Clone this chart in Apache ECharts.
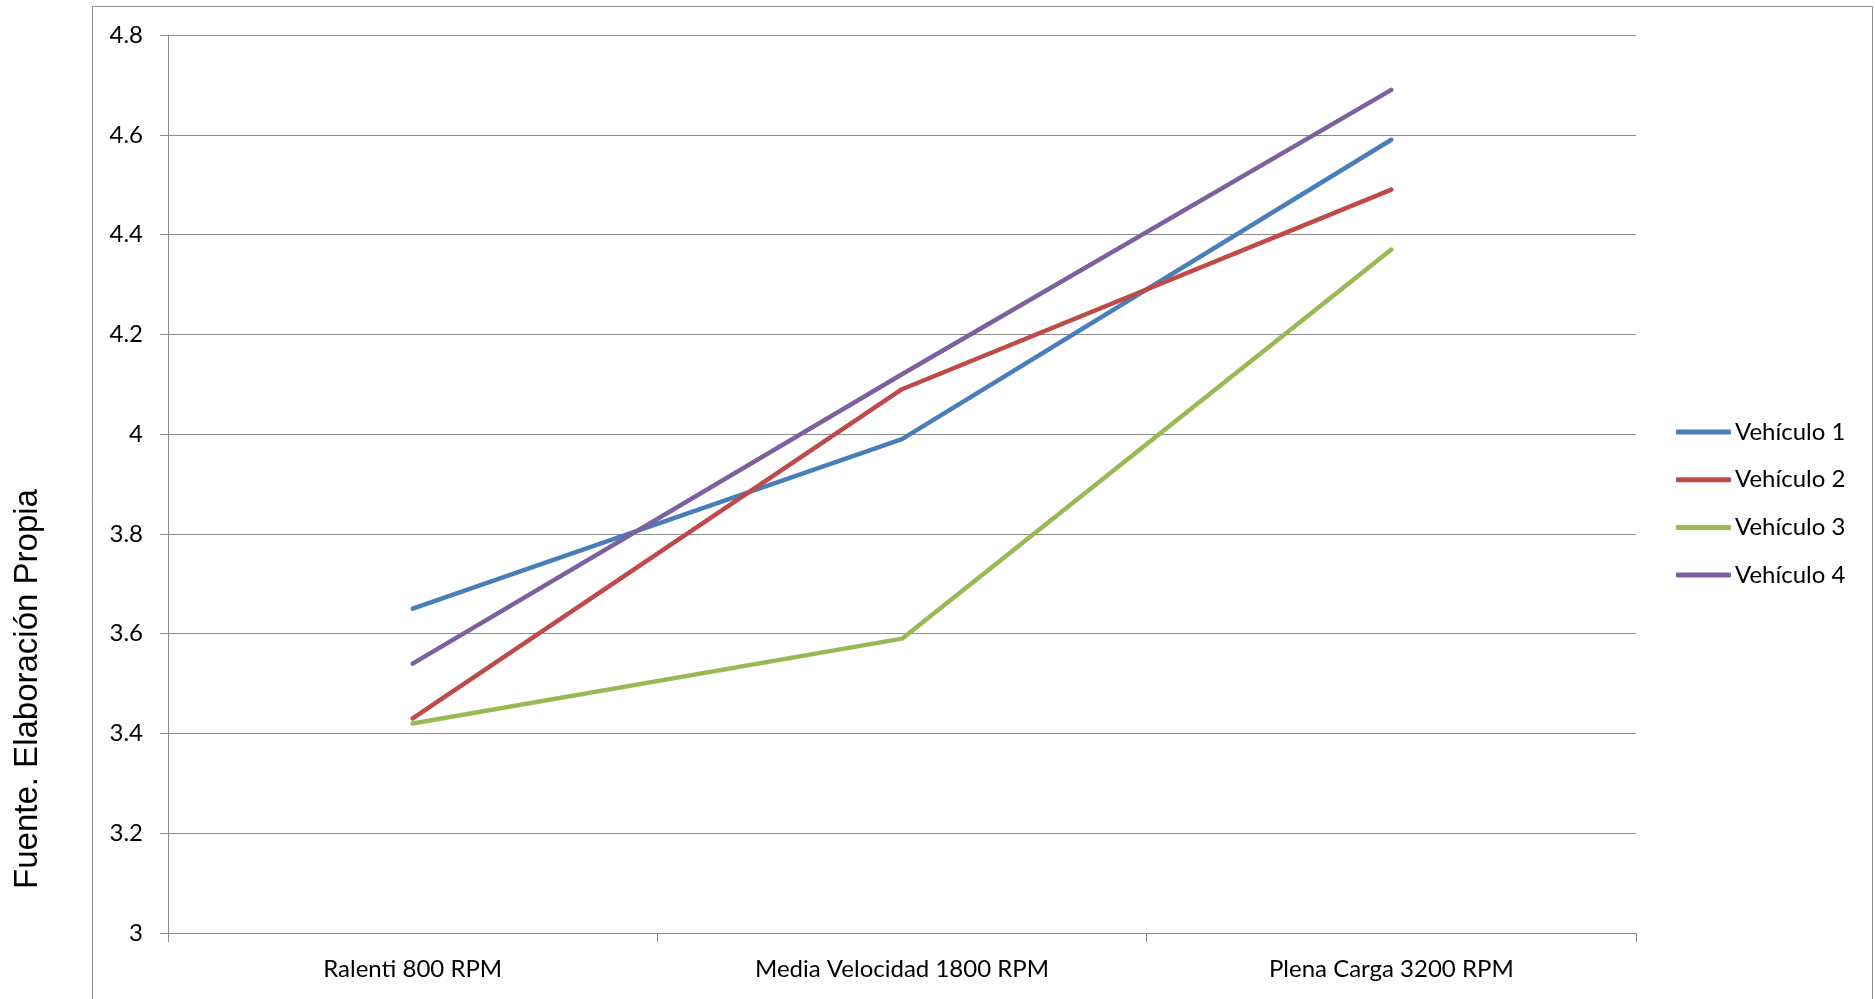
<!DOCTYPE html>
<html>
<head>
<meta charset="utf-8">
<title>Vehículos</title>
<script src="https://cdn.jsdelivr.net/npm/echarts@6/dist/echarts.min.js"></script>
<style>
  html, body { margin: 0; padding: 0; background: #ffffff; }
  #chart { width: 1875px; height: 999px; }
</style>
</head>
<body>
<div id="chart"></div>
<script>
// Engine speed regimes on the category axis
const categories = ['Ralenti 800 RPM', 'Media Velocidad 1800 RPM', 'Plena Carga 3200 RPM'];

// Measured values per vehicle
const vehiculo1 = [3.65, 3.99, 4.59];
const vehiculo2 = [3.43, 4.09, 4.49];
const vehiculo3 = [3.42, 3.59, 4.37];
const vehiculo4 = [3.54, 4.12, 4.69];

const seriesNames = ['Vehículo 1', 'Vehículo 2', 'Vehículo 3', 'Vehículo 4'];
const seriesData = [vehiculo1, vehiculo2, vehiculo3, vehiculo4];
const seriesColors = ['#4A7EBB', '#BE4B48', '#98B954', '#7D60A0'];

const sourceNote = 'Fuente. Elaboración Propia';

const gridGray = '#8C8C8C';
const labelFont = 'Lato, "Open Sans", sans-serif';

const chart = echarts.init(document.getElementById('chart'), null, { renderer: 'canvas' });

chart.setOption({
  backgroundColor: '#ffffff',
  animation: false,
  grid: { left: 168, right: 239, top: 35, bottom: 66, containLabel: false },
  xAxis: {
    type: 'category',
    data: categories,
    boundaryGap: true,
    axisLine: { show: true, lineStyle: { color: gridGray, width: 1 } },
    axisTick: { show: true, length: 9, lineStyle: { color: gridGray, width: 1 } },
    axisLabel: { color: '#000000', fontFamily: labelFont, fontSize: 24, margin: 24 },
    splitLine: { show: false }
  },
  yAxis: {
    type: 'value',
    min: 3,
    max: 4.8,
    interval: 0.2,
    axisLine: { show: true, lineStyle: { color: gridGray, width: 1 } },
    axisTick: { show: true, length: 8, lineStyle: { color: gridGray, width: 1 } },
    axisLabel: { color: '#000000', fontFamily: labelFont, fontSize: 24, margin: 25 },
    splitLine: { show: true, lineStyle: { color: gridGray, width: 1 } }
  },
  legend: {
    orient: 'vertical',
    left: 1671,
    top: 415,
    itemWidth: 55,
    itemHeight: 5,
    itemGap: 23.7,
    icon: 'roundRect',
    textStyle: { color: '#000000', fontFamily: labelFont, fontSize: 24, lineHeight: 24, padding: [0, 0, 0, -1] },
    data: seriesNames
  },
  graphic: [
    {
      type: 'rect',
      silent: true,
      shape: { x: 92.5, y: 6.5, width: 1780, height: 1100 },
      style: { fill: 'none', stroke: gridGray, lineWidth: 1 }
    },
    {
      type: 'text',
      silent: true,
      x: 28,
      y: 689,
      rotation: Math.PI / 2,
      style: {
        text: sourceNote,
        fill: '#000000',
        font: '33px "Liberation Sans", Arial, sans-serif',
        textAlign: 'center',
        textVerticalAlign: 'middle'
      }
    }
  ],
  series: seriesNames.map((name, i) => ({
    name: name,
    type: 'line',
    data: seriesData[i],
    symbol: 'none',
    color: seriesColors[i],
    lineStyle: { color: seriesColors[i], width: 4.5, cap: 'round', join: 'round' },
    itemStyle: { color: seriesColors[i] }
  }))
});
</script>
</body>
</html>
